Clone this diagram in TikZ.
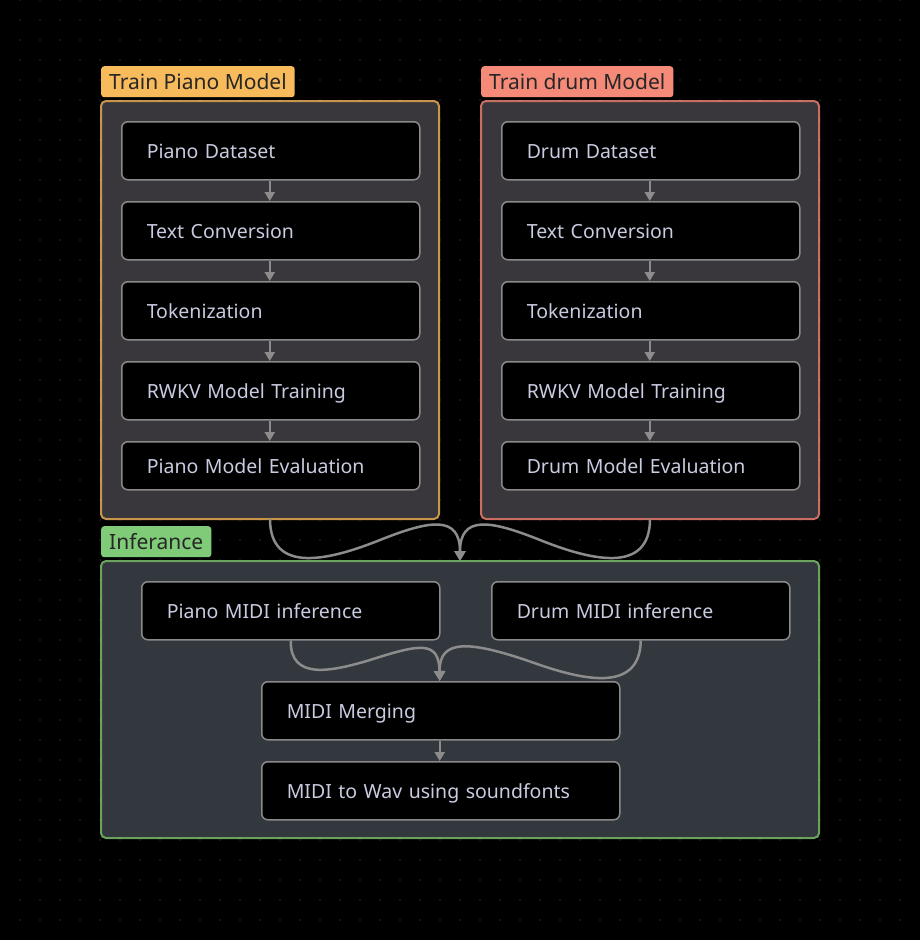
\documentclass[tikz,border=0pt]{standalone}
\usepackage{fontspec}
\setmainfont{Noto Sans}
\usetikzlibrary{arrows.meta}
\definecolor{bg}{HTML}{000000}
\definecolor{dotc}{HTML}{2C2C2C}
\definecolor{grpfill}{HTML}{3A373C}
\definecolor{inffill}{HTML}{33383E}
\definecolor{pianoc}{HTML}{C8964A}
\definecolor{pianotag}{HTML}{F7BB5C}
\definecolor{drumc}{HTML}{C86E62}
\definecolor{drumtag}{HTML}{F58A78}
\definecolor{infc}{HTML}{6AA35E}
\definecolor{inftag}{HTML}{7FCB78}
\definecolor{nodeb}{HTML}{8A8A8A}
\definecolor{txt}{HTML}{C9CCE0}
\definecolor{conn}{HTML}{8C8C8C}
\tikzset{
  x=1pt, y=-1pt,
  grp/.style={draw, line width=2pt, rounded corners=5pt},
  tag/.style={anchor=north west, rounded corners=3pt, minimum height=31pt, inner xsep=8pt, inner ysep=0pt, text=black!85, font=\fontsize{21}{24}\selectfont},
  box/.style={anchor=north west, draw=nodeb, line width=1.5pt, fill=black, rounded corners=6pt, minimum height=#1, inner xsep=25pt, inner ysep=0pt, text height=19pt, text depth=4pt, align=left, text=txt, font=\fontsize{19.5}{22}\selectfont},
  box/.default=58pt,
  flow/.style={draw=conn, line width=2.5pt, -{Triangle[width=11pt,length=10pt]}},
  chain/.style={draw=conn, line width=2pt, -{Triangle[width=10pt,length=9pt]}},
}
\begin{document}
\begin{tikzpicture}
\fill[bg] (0,0) rectangle (920,940);
\useasboundingbox (0,0) rectangle (920,940);
\foreach \i in {1,...,45} {\foreach \j in {0,...,46} {\fill[dotc] (\i*20,\j*20) circle (0.8pt);}}
% groups
\draw[grp, draw=pianoc, fill=grpfill] (101,101) rectangle (439,519);
\coordinate (pg) at (270,519);
\draw[grp, draw=drumc, fill=grpfill] (481,101) rectangle (819,519);
\coordinate (dg) at (650,519);
\draw[grp, draw=infc, fill=inffill] (101,561) rectangle (819,838);
\coordinate (ig) at (460,561);
\node[tag, fill=pianotag] (tp) at (101,66) {Train Piano Model};
\node[tag, fill=drumtag] (td) at (481,66) {Train drum Model};
\node[tag, fill=inftag] (ti) at (101,526) {Inferance};
% piano nodes
\node[box, text width=248pt] (p1) at (121,121) {Piano Dataset};
\node[box, text width=248pt] (p2) at (121,201) {Text Conversion};
\node[box, text width=248pt] (p3) at (121,281) {Tokenization};
\node[box, text width=248pt] (p4) at (121,361) {RWKV Model Training};
\node[box=48pt, text width=248pt] (p5) at (121,441) {Piano Model Evaluation};
% drum nodes
\node[box, text width=248pt] (d1) at (501,121) {Drum Dataset};
\node[box, text width=248pt] (d2) at (501,201) {Text Conversion};
\node[box, text width=248pt] (d3) at (501,281) {Tokenization};
\node[box, text width=248pt] (d4) at (501,361) {RWKV Model Training};
\node[box=48pt, text width=248pt] (d5) at (501,441) {Drum Model Evaluation};
% inference nodes
\node[box, text width=248pt] (i1) at (141,581) {Piano MIDI inference};
\node[box, text width=248pt] (i2) at (491,581) {Drum MIDI inference};
\node[box, text width=308pt] (i3) at (261,681) {MIDI Merging};
\node[box, text width=308pt] (i4) at (261,761) {MIDI to Wav using soundfonts};
% arrows
\foreach \a/\b in {p1/p2,p2/p3,p3/p4,p4/p5,d1/d2,d2/d3,d3/d4,d4/d5,i3/i4}
  \draw[chain] ([xshift=-1pt]\a.south) -- ([xshift=-1pt]\b.north);
\draw[flow] (pg) .. controls (270,575) and (330,560) .. (380,540) .. controls (430,520) and (460,515) .. (ig);
\draw[flow] (dg) .. controls (650,575) and (590,560) .. (540,540) .. controls (490,520) and (460,515) .. (ig);
\draw[flow] (i1.south) .. controls (290,680) and (330,672) .. (370,660) .. controls (420,644) and (439,640) .. ([xshift=-1pt]i3.north);
\draw[flow] (i2.south) .. controls (640,690) and (590,682) .. (540,665) .. controls (470,640) and (439,638) .. ([xshift=-1pt]i3.north);
\end{tikzpicture}
\end{document}
